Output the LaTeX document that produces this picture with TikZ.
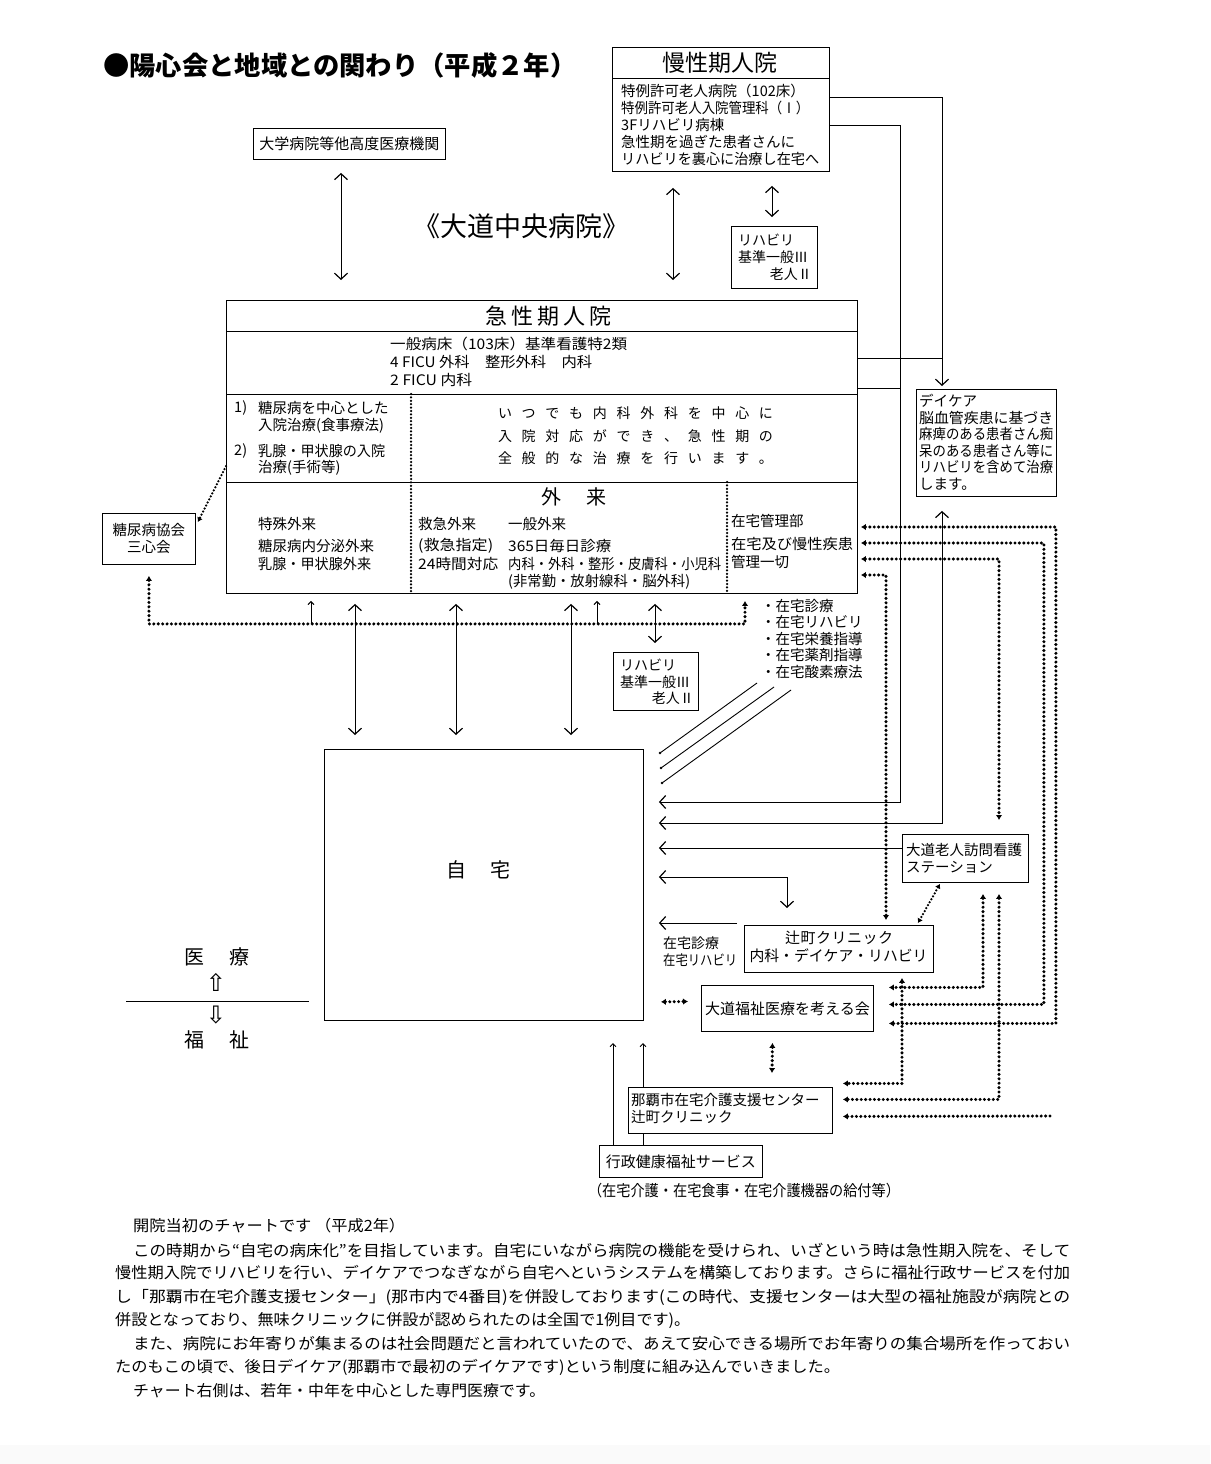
\documentclass[tikz,border=0pt]{standalone}
\usepackage{fontspec}
\usepackage{graphicx}
\setmainfont{Noto Sans CJK JP}
\newfontfamily\djv{DejaVu Sans}
\usetikzlibrary{arrows.meta,calc,backgrounds}
\newcommand\fs[2]{\fontsize{#1}{#2}\selectfont}
\newcommand\spreadbox[2]{\makebox[#1][s]{#2}}
\newcommand\fitline[2]{\resizebox{#1}{\height}{#2}}
\begin{document}
\begin{tikzpicture}[x=1pt,y=-1pt,
  bx/.style={draw, line width=0.9pt, fill=white, inner sep=0pt, anchor=north west},
  t/.style={inner sep=0pt, anchor=west, font=\fs{14.5}{17}},
  tl/.style={inner sep=0pt, anchor=north west, align=left, font=\fs{14.5}{17}},
  tc/.style={inner sep=0pt, anchor=center, align=center, font=\fs{14.5}{17}},
  ln/.style={line width=0.9pt},
  arr/.style={ln, -{Straight Barb[length=6pt,width=13pt,line width=1.2pt]}},
  barr/.style={ln, {Straight Barb[length=6pt,width=13pt,line width=1.2pt]}-{Straight Barb[length=6pt,width=13pt,line width=1.2pt]}},
  sarr/.style={line width=0.7pt, -{Straight Barb[length=3pt,width=6pt,line width=1pt]}},
  dots/.style={line width=3.4pt, line cap=round, dash pattern=on 0pt off 4.4pt},
  dtip/.style={dots, {Latex[length=5pt,width=6.5pt]}-{Latex[length=5pt,width=6.5pt]}},
  dtipe/.style={dots, -{Latex[length=5pt,width=6.5pt]}},
  thindots/.style={line width=2.5pt, line cap=round, dash pattern=on 0pt off 3.4pt},
]
\useasboundingbox (0,0) rectangle (1210,1464);
\begin{scope}[on background layer]
  \fill[white] (0,0) rectangle (1210,1464);
  \fill[gray!4] (0,1445) rectangle (1210,1464);
\end{scope}

% ---------- title ----------
\node[inner sep=0pt, anchor=west, font=\fs{26.3}{28}\bfseries] (title) at (103,65) {●陽心会と地域との関わり（平成２年）};

% ---------- boxes ----------
\node[bx, minimum width=217pt, minimum height=124pt] (mansei) at (612,47) {};
\node[bx, minimum width=192pt, minimum height=31pt] (daigaku) at (253,128) {};
\node[bx, minimum width=86pt, minimum height=62pt] (rehabA) at (731,226) {};
\node[bx, minimum width=631pt, minimum height=293pt] (kyusei) at (226,300) {};
\node[bx, minimum width=140pt, minimum height=107pt] (daycare) at (916,389) {};
\node[bx, minimum width=93pt, minimum height=51pt] (tonyo) at (102,513) {};
\node[bx, minimum width=85pt, minimum height=58pt] (rehabB) at (613,652) {};
\node[bx, minimum width=319pt, minimum height=271pt] (jitaku) at (324,749) {};
\node[bx, minimum width=126pt, minimum height=48pt] (houmon) at (902,834) {};
\node[bx, minimum width=189pt, minimum height=47pt] (clinic) at (744,925) {};
\node[bx, minimum width=172pt, minimum height=46pt] (kangaeru) at (701,985) {};
\node[bx, minimum width=204pt, minimum height=46pt] (naha) at (628,1087) {};
\node[bx, minimum width=163pt, minimum height=32pt] (gyosei) at (599,1145) {};

% dividers
\draw[ln] ([yshift=-31pt]mansei.north west) -- ([yshift=-31pt]mansei.north east);
\draw[ln] ([yshift=-31pt]kyusei.north west) -- ([yshift=-31pt]kyusei.north east);
\draw[ln] ([yshift=-94pt]kyusei.north west) -- ([yshift=-94pt]kyusei.north east);
\draw[ln] ([yshift=-182pt]kyusei.north west) -- ([yshift=-182pt]kyusei.north east);
\draw[thindots] ([xshift=185pt,yshift=-94pt]kyusei.north west) -- ([xshift=185pt]kyusei.south west);
\draw[thindots] ([xshift=501pt,yshift=-182pt]kyusei.north west) -- ([xshift=501pt]kyusei.south west);

% ---------- texts ----------
\node[tc, font=\fs{23}{26}] (manseiT) at (720,63) {慢性期人院};
\node[tl] (manseiB) at (621,83.5) {特例許可老人病院（102床）\\\fitline{188pt}{特例許可老人入院管理科（Ⅰ）}\\3Fリハビリ病棟\\急性期を過ぎた患者さんに\\\fitline{198pt}{リハビリを裏心に治療し在宅へ}};
\node[tc, font=\fs{15}{17}] (daigakuT) at (daigaku.center) {大学病院等他高度医療機関};
\node[tc, font=\fs{27}{29}] (chuo) at (521,226) {《大道中央病院》};

\node[t, font=\fs{14}{16}] (rA1) at (738,240) {リハビリ};
\node[t, font=\fs{14}{16}] (rA2) at (738,257) {基準一般Ⅲ};
\node[t, anchor=east, font=\fs{14}{16}] (rA3) at (812,274) {老人Ⅱ};

\node[tc, font=\fs{22}{24}] (kyuseiT) at (548.5,316) {\spreadbox{127pt}{急\hfill 性\hfill 期\hfill 人\hfill 院}};
\node[t] (ip1) at (390,344) {\fitline{237pt}{一般病床（103床）基準看護特2類}};
\node[t] (ip2) at (390,362) {\fitline{202pt}{4 FICU 外科　整形外科　内科}};
\node[t] (ip3) at (390,380) {\fitline{82pt}{2 FICU 内科}};

\node[t] (l1a) at (234,408) {1)};
\node[t] (l1b) at (258,408) {糖尿病を中心とした};
\node[t] (l1c) at (258,426) {入院治療(食事療法)};
\node[t] (l2a) at (234,451) {2)};
\node[t] (l2b) at (258,451) {\fitline{127pt}{乳腺・甲状腺の入院}};
\node[t] (l2c) at (258,468) {治療(手術等)};

\node[tc, font=\fs{14}{16}] (c1) at (635.5,413) {\spreadbox{275pt}{い\hfill つ\hfill で\hfill も\hfill 内\hfill 科\hfill 外\hfill 科\hfill を\hfill 中\hfill 心\hfill に}};
\node[tc, font=\fs{14}{16}] (c2) at (635.5,436) {\spreadbox{275pt}{入\hfill 院\hfill 対\hfill 応\hfill が\hfill で\hfill き\hfill 、\hfill 急\hfill 性\hfill 期\hfill の}};
\node[tc, font=\fs{14}{16}] (c3) at (635.5,458) {\spreadbox{275pt}{全\hfill 般\hfill 的\hfill な\hfill 治\hfill 療\hfill を\hfill 行\hfill い\hfill ま\hfill す\hfill 。}};

\node[tc, font=\fs{20}{22}] (gairai) at (573.5,497) {\spreadbox{65pt}{外\hfill 来}};
\node[t] (g1) at (258,524) {特殊外来};
\node[t] (g2) at (258,546) {糖尿病内分泌外来};
\node[t] (g3) at (258,564) {\fitline{113pt}{乳腺・甲状腺外来}};
\node[t] (k1) at (418,524) {救急外来};
\node[t] (k2) at (418,546) {\fitline{75pt}{(救急指定)}};
\node[t] (k3) at (418,564) {\fitline{80pt}{24時間対応}};
\node[t] (p1) at (508,524) {一般外来};
\node[t] (p2) at (508,546) {\fitline{103pt}{365日毎日診療}};
\node[t] (p3) at (508,564) {\fitline{213pt}{内科・外科・整形・皮膚科・小児科}};
\node[t] (p4) at (508,582) {\fitline{182pt}{(非常勤・放射線科・脳外科)}};
\node[t] (z1) at (731,521) {在宅管理部};
\node[t] (z2) at (731,544) {\fitline{122pt}{在宅及び慢性疾患}};
\node[t] (z3) at (731,562) {管理一切};

\node[t] (dc1) at (919,401) {デイケア};
\node[t] (dc2) at (919,418) {\fitline{134pt}{脳血管疾患に基づき}};
\node[t] (dc3) at (919,434) {\fitline{134pt}{麻痺のある患者さん痴}};
\node[t] (dc4) at (919,451) {\fitline{134pt}{呆のある患者さん等に}};
\node[t] (dc5) at (919,467) {\fitline{134pt}{リハビリを含めて治療}};
\node[t] (dc6) at (919,484) {します。};
\node[tc] (tonyoT) at (tonyo.center) {糖尿病協会\\三心会};

\node[t, font=\fs{14}{16}] (rB1) at (620,665) {リハビリ};
\node[t, font=\fs{14}{16}] (rB2) at (620,682) {基準一般Ⅲ};
\node[t, anchor=east, font=\fs{14}{16}] (rB3) at (694,698) {老人Ⅱ};

\node[tl, font=\fs{14.5}{16.5}] (bullets) at (761,598.75) {・在宅診療\\・在宅リハビリ\\・在宅栄養指導\\・在宅薬剤指導\\・在宅酸素療法};

\node[tc, font=\fs{20}{22}] (jitakuT) at (478,870) {\spreadbox{64pt}{自\hfill 宅}};
\node[tc, font=\fs{15}{17}] (clinicT1) at (839,938) {\spreadbox{108pt}{辻\hfill 町\hfill ク\hfill リ\hfill ニ\hfill ッ\hfill ク}};
\node[tc, font=\fs{15}{17}] (clinicT2) at (838.5,956) {\fitline{178pt}{内科・デイケア・リハビリ}};
\node[t, font=\fs{14}{17}] (zl1) at (663,943) {在宅診療};
\node[t, font=\fs{14}{17}] (zl2) at (663,960) {\fitline{74pt}{在宅リハビリ}};
\node[tl] (houmonT) at (906,842.75) {大道老人訪問看護\\ステーション};
\node[tc, font=\fs{15}{17}] (kangaeruT) at (kangaeru.center) {大道福祉医療を考える会};
\node[tl] (nahaT) at (631,1092.75) {那覇市在宅介護支援センター\\辻町クリニック};
\node[tc, font=\fs{15}{17}] (gyoseiT) at (gyosei.center) {行政健康福祉サービス};
\node[tc, font=\fs{15.5}{17}] (caption) at (744,1191) {\fitline{312pt}{（在宅介護・在宅食事・在宅介護機器の給付等）}};

\node[tc, font=\fs{20}{22}] (iryo) at (216.5,957) {\spreadbox{65pt}{医\hfill 療}};
\node[tc, font=\djv\fs{24}{26}] (upsym) at (216,982) {⇧};
\node[tc, font=\djv\fs{24}{26}] (downsym) at (216,1015) {⇩};
\node[tc, font=\fs{20}{22}] (fukushi) at (216.5,1040) {\spreadbox{65pt}{福\hfill 祉}};
\coordinate (divL) at (126,1001);
\coordinate (divR) at (309,1001);
\draw[line width=0.7pt] (divL) -- (divR);

% bottom paragraph
\node[t, font=\fs{15.5}{17}] (para1) at (133,1226) {\fitline{272pt}{開院当初のチャートです （平成2年）}};
\node[t, font=\fs{15.5}{17}] (para2) at (133,1250) {\fitline{937pt}{この時期から“自宅の病床化”を目指しています。自宅にいながら病院の機能を受けられ、いざという時は急性期入院を、そして}};
\node[t, font=\fs{15.5}{17}] (para3) at (115,1273) {\fitline{955pt}{慢性期入院でリハビリを行い、デイケアでつなぎながら自宅へというシステムを構築しております。さらに福祉行政サービスを付加}};
\node[t, font=\fs{15.5}{17}] (para4) at (115,1297) {\fitline{955pt}{し「那覇市在宅介護支援センター」(那市内で4番目)を併設しております(この時代、支援センターは大型の福祉施設が病院との}};
\node[t, font=\fs{15.5}{17}] (para5) at (115,1320) {\fitline{575pt}{併設となっており、無味クリニックに併設が認められたのは全国で1例目です)。}};
\node[t, font=\fs{15.5}{17}] (para6) at (133,1344) {\fitline{937pt}{また、病院にお年寄りが集まるのは社会問題だと言われていたので、あえて安心できる場所でお年寄りの集合場所を作っておい}};
\node[t, font=\fs{15.5}{17}] (para7) at (115,1367) {\fitline{725pt}{たのもこの頃で、後日デイケア(那覇市で最初のデイケアです)という制度に組み込んでいきました。}};
\node[t, font=\fs{15.5}{17}] (para8) at (133,1391) {\fitline{412pt}{チャート右側は、若年・中年を中心とした専門医療です。}};

% ---------- solid connectors ----------
\draw[barr, shorten <=13pt, shorten >=20pt] ([xshift=88pt]daigaku.south west) -- ([xshift=115pt]kyusei.north west);
\draw[barr, shorten <=16pt, shorten >=20pt] ([xshift=61pt]mansei.south west) -- ([xshift=447pt]kyusei.north west);
\draw[barr, shorten <=14pt, shorten >=9pt] ([xshift=160pt]mansei.south west) -- ([xshift=41pt]rehabA.north west);

\draw[arr, shorten >=3pt] ([yshift=-50pt]mansei.north east) -| ([xshift=26pt]daycare.north west);
\draw[ln] ([yshift=-58pt]kyusei.north east) -- ++(85,0);

\coordinate (jA) at ($(jitaku.north east)+(15,53)$);
\coordinate (jB) at ($(jitaku.north east)+(15,74)$);
\coordinate (jC) at ($(jitaku.north east)+(15,99)$);
\coordinate (jD) at ($(jitaku.north east)+(15,128)$);
\coordinate (jE) at ($(jitaku.north east)+(15,174)$);
\coordinate (jEs) at ($(clinic.north west)+(-7,-2)$);

\draw[arr] ([yshift=-78pt]mansei.north east) -| ($(jA)+(242,0)$) -- (jA);
\draw[ln] ([yshift=-88pt]kyusei.north east) -- ++(43,0);
\draw[barr] (jB) -| ([xshift=26pt,yshift=-14pt]daycare.south west);
\draw[arr] ([yshift=-14pt]houmon.north west) -- (jC);
\draw[barr] (jD) -| ([xshift=43pt,yshift=17pt]clinic.north west);
\draw[arr] (jEs) -- (jE);

\foreach \a/\b in {129/31,230/132,345/247} {
  \draw[barr, shorten <=10pt, shorten >=14pt] ([xshift=\a pt]kyusei.south west) -- ([xshift=\b pt]jitaku.north west);
}
\draw[barr, shorten <=10pt, shorten >=9pt] ([xshift=429pt]kyusei.south west) -- ([xshift=42pt]rehabB.north west);

\coordinate (sa1) at (311,623);
\coordinate (sa2) at (597,623);
\draw[sarr] (sa1) -- ([xshift=85pt,yshift=-7pt]kyusei.south west);
\draw[sarr] (sa2) -- ([xshift=371pt,yshift=-7pt]kyusei.south west);

% diagonal strokes from the home services list
\coordinate (dg1a) at (660,753); \coordinate (dg1b) at (757,683);
\coordinate (dg2a) at (661,768); \coordinate (dg2b) at (774,687);
\coordinate (dg3a) at (662,783); \coordinate (dg3b) at (791,690);
\draw[ln] (dg1a) -- (dg1b); \draw[ln] (dg2a) -- (dg2b); \draw[ln] (dg3a) -- (dg3b);
\fill (dg1a) circle (1.4); \fill (dg2a) circle (1.4); \fill (dg3a) circle (1.4);

% administration arrows (one passes behind the Naha box)
\draw[sarr] ($(gyosei.north west)+(14,0)$) -- ++(0,-102);
\begin{scope}[on background layer]
\draw[sarr] ($(gyosei.north west)+(44,0)$) -- ++(0,-102);
\end{scope}

% ---------- dotted connectors ----------
\draw[dtip] ([yshift=-11pt]tonyo.south) -- ++(0,48) -| ([xshift=519pt,yshift=-7pt]kyusei.south west);
\draw[thindots, -{Latex[length=4.5pt,width=6pt]}] ([yshift=-166pt]kyusei.north west) -- ([xshift=2pt,yshift=-9pt]tonyo.north east);

\draw[dtip] ([xshift=3pt,yshift=-227pt]kyusei.north east) -| ($(kangaeru.east)+(182,15)$) -- ($(kangaeru.east)+(15,15)$);
\draw[dtip] ([xshift=3pt,yshift=-243pt]kyusei.north east) -| ($(kangaeru.east)+(170,-4)$) -- ($(kangaeru.east)+(15,-4)$);
\draw[dtip] ([xshift=3pt,yshift=-259pt]kyusei.north east) -| ($(houmon.north west)+(97,-14)$);
\draw[dtip] ([xshift=3pt,yshift=-275pt]kyusei.north east) -| ($(clinic.north west)+(142,-5)$);
\draw[dtip] ($(houmon.south west)+(81,11)$) |- ($(kangaeru.east)+(15,-21)$);
\draw[dtip] ($(houmon.south west)+(97,11)$) |- ($(naha.east)+(10,-11)$);
\draw[dtip] ($(clinic.south west)+(158,5)$) |- ($(naha.east)+(10,-27)$);
\coordinate (d8s) at (1050,1116);
\draw[dtipe] (d8s) -- ($(naha.east)+(10,6)$);
\draw[dtip] ($(jitaku.south east)+(17,-19)$) -- ($(kangaeru.west)+(-13,-7)$);
\draw[dtip] ($(kangaeru.south)+(-15,11)$) -- ($(naha.north west)+(144,-14)$);
\draw[thindots, {Latex[length=4.5pt,width=6pt]}-{Latex[length=4.5pt,width=6pt]}] ($(houmon.south west)+(38,1)$) -- ($(clinic.north east)+(-16,-2)$);
\end{tikzpicture}
\end{document}
